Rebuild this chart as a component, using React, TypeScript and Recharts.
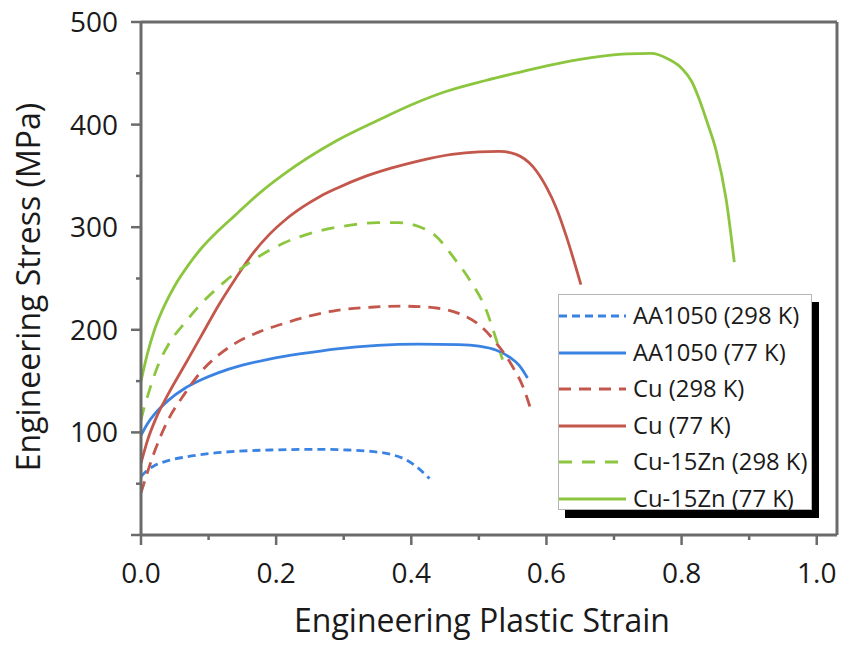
import { LineChart, Line, XAxis, YAxis, ReferenceLine, Legend } from "recharts";

// strain / stress pairs
const AA1050_298K: [number, number][] = [
  [0, 57], [0.01, 63.5], [0.021, 68], [0.04, 72.5], [0.065, 76], [0.1, 79.3], [0.14, 81.5],
  [0.2, 83], [0.26, 83.5], [0.3, 83], [0.34, 81.5], [0.37, 78.5], [0.39, 74], [0.405, 68], [0.427, 55],
];
const AA1050_77K: [number, number][] = [
  [0, 97], [0.01, 109], [0.021, 118.5], [0.04, 131], [0.065, 143], [0.09, 151.5], [0.114, 158],
  [0.15, 165.5], [0.19, 171.5], [0.24, 177], [0.29, 181.5], [0.35, 184.8], [0.41, 186], [0.47, 185.5],
  [0.5, 184], [0.526, 180], [0.545, 173.5], [0.56, 165], [0.572, 153],
];
const CU_298K: [number, number][] = [
  [0, 41], [0.01, 62], [0.021, 83], [0.04, 112], [0.065, 138], [0.09, 160], [0.115, 175.5],
  [0.14, 187], [0.175, 198], [0.213, 206.5], [0.25, 213.5], [0.29, 219], [0.34, 222], [0.39, 223],
  [0.44, 221], [0.47, 216], [0.5, 205], [0.526, 187], [0.55, 164], [0.565, 145], [0.578, 120],
];
const CU_77K: [number, number][] = [
  [0, 70], [0.01, 93], [0.021, 112], [0.04, 137], [0.065, 166], [0.09, 195], [0.114, 223],
  [0.14, 250], [0.165, 274], [0.19, 293], [0.215, 308], [0.24, 320], [0.265, 330], [0.29, 338],
  [0.33, 349], [0.37, 357.5], [0.41, 364.5], [0.46, 371], [0.5, 373.5], [0.53, 374], [0.555, 371],
  [0.58, 359], [0.6, 339], [0.615, 318], [0.629, 292], [0.651, 244],
];
const CU15ZN_298K: [number, number][] = [
  [0, 112], [0.005, 125], [0.011, 138], [0.025, 165], [0.04, 185], [0.065, 207], [0.09, 226],
  [0.124, 247], [0.164, 267], [0.213, 285], [0.265, 296.5], [0.31, 302], [0.35, 304.5], [0.38, 304.5],
  [0.412, 300.5], [0.437, 291], [0.462, 271], [0.486, 249], [0.511, 219], [0.525, 192], [0.535, 171],
];
const CU15ZN_77K: [number, number][] = [
  [0, 150], [0.01, 178], [0.02, 200], [0.035, 224], [0.05, 243], [0.07, 263], [0.09, 280],
  [0.115, 297], [0.14, 312], [0.175, 333], [0.21, 351], [0.29, 384.5], [0.35, 404], [0.41, 422],
  [0.45, 432], [0.51, 443], [0.56, 451], [0.62, 460], [0.68, 466.5], [0.72, 469], [0.755, 469.5],
  [0.78, 464], [0.8, 455], [0.815, 442], [0.826, 425], [0.838, 402], [0.851, 375], [0.866, 327],
  [0.878, 266],
];

const X_TICKS = [0, 0.1, 0.2, 0.3, 0.4, 0.5, 0.6, 0.7, 0.8, 0.9, 1.0];
const Y_TICKS = [0, 50, 100, 150, 200, 250, 300, 350, 400, 450, 500];

const BLUE = "#3b83e2";
const RED = "#c4574c";
const GREEN = "#8cc63f";
const AXIS = "#6b6b6b";
const INK = "#1a1a1a";
const FONT = "'Open Sans', sans-serif";

const series = [
  { name: "AA1050 (298 K)", points: AA1050_298K, color: BLUE, dash: "8 5" },
  { name: "AA1050 (77 K)", points: AA1050_77K, color: BLUE, dash: undefined },
  { name: "Cu (298 K)", points: CU_298K, color: RED, dash: "12 8" },
  { name: "Cu (77 K)", points: CU_77K, color: RED, dash: undefined },
  { name: "Cu-15Zn (298 K)", points: CU15ZN_298K, color: GREEN, dash: "13 10" },
  { name: "Cu-15Zn (77 K)", points: CU15ZN_77K, color: GREEN, dash: undefined },
];

function YTick(props: any) {
  const { x, y, payload } = props;
  const v = payload.value;
  const major = v % 100 === 0;
  return (
    <g>
      <line x1={x} x2={x - (major ? 10 : 5)} y1={y} y2={y} stroke={AXIS} strokeWidth={2.5} />
      {major && v > 0 && (
        <text x={x - 23} y={y} dy="0.36em" textAnchor="end" fontSize={28} fontFamily={FONT} fill={INK}>
          {v}
        </text>
      )}
    </g>
  );
}

function XTick(props: any) {
  const { x, y, payload } = props;
  const v = payload.value;
  const major = Math.round(v * 10) % 2 === 0;
  return (
    <g>
      <line x1={x} x2={x} y1={y} y2={y + (major ? 10 : 5)} stroke={AXIS} strokeWidth={2.5} />
      {major && (
        <text x={x} y={y + 38} dy="0.36em" textAnchor="middle" fontSize={28} fontFamily={FONT} fill={INK}>
          {v.toFixed(1)}
        </text>
      )}
    </g>
  );
}

function LegendBox() {
  return (
    <div
      style={{
        width: 254,
        height: 216,
        boxSizing: "border-box",
        border: "1.5px solid #b5b5b5",
        background: "#fff",
        boxShadow: "7px 8px 0 #000",
        paddingTop: 3,
        fontFamily: FONT,
        fontSize: 23.8,
        color: INK,
      }}
    >
      {series.map((s) => (
        <div key={s.name} style={{ display: "flex", alignItems: "center", height: 36.5, whiteSpace: "nowrap" }}>
          <svg width={67} height={10} style={{ flex: "none" }}>
            <line x1={0} x2={67} y1={5} y2={5} stroke={s.color} strokeWidth={3} strokeDasharray={s.dash} />
          </svg>
          <span style={{ marginLeft: 7, lineHeight: 1 }}>{s.name}</span>
        </div>
      ))}
    </div>
  );
}

export default function App() {
  return (
    <div style={{ width: 843, height: 649, background: "#fff" }}>
      <style>{"body{margin:0}"}</style>
      <LineChart width={843} height={649} margin={{ top: 22, right: 6, bottom: 0, left: 0 }}>
        <XAxis
          type="number"
          dataKey="x"
          domain={[0, 1.03]}
          ticks={X_TICKS}
          interval={0}
          allowDataOverflow
          height={114}
          tickSize={0}
          tickMargin={0}
          tickLine={false}
          axisLine={{ stroke: AXIS, strokeWidth: 3 }}
          tick={<XTick />}
          label={{
            content: () => (
              <text x={482} y={632} textAnchor="middle" fontSize={32} fontFamily={FONT} fill={INK}>
                Engineering Plastic Strain
              </text>
            ),
          }}
        />
        <YAxis
          type="number"
          domain={[0, 500]}
          ticks={Y_TICKS}
          interval={0}
          width={141}
          tickSize={0}
          tickMargin={0}
          tickLine={false}
          axisLine={{ stroke: AXIS, strokeWidth: 3 }}
          tick={<YTick />}
          label={{
            content: () => (
              <text
                x={40}
                y={287}
                transform="rotate(-90 40 287)"
                textAnchor="middle"
                fontSize={32}
                fontFamily={FONT}
                fill={INK}
              >
                Engineering Stress (MPa)
              </text>
            ),
          }}
        />
        <ReferenceLine y={500} stroke={AXIS} strokeWidth={3} />
        <ReferenceLine x={1.03} stroke={AXIS} strokeWidth={3} />
        {series.map((s) => (
          <Line
            key={s.name}
            name={s.name}
            data={s.points.map(([x, y]) => ({ x, y }))}
            dataKey="y"
            type="monotone"
            stroke={s.color}
            strokeWidth={2.8}
            strokeDasharray={s.dash}
            dot={false}
            isAnimationActive={false}
          />
        ))}
        <Legend
          layout="vertical"
          align="center"
          verticalAlign="middle"
          wrapperStyle={{ left: 558, top: 294, width: 254, height: 216 }}
          content={() => <LegendBox />}
        />
      </LineChart>
    </div>
  );
}
